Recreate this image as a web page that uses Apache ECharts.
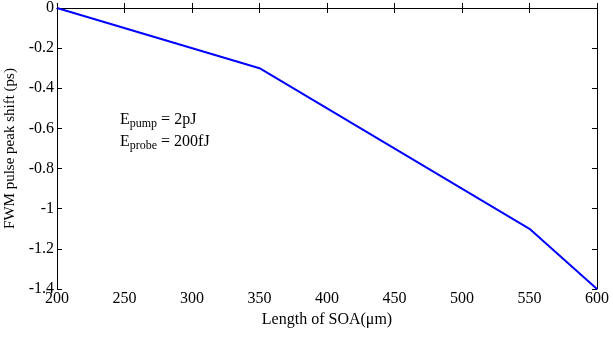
<!DOCTYPE html>
<html>
<head>
<meta charset="utf-8">
<script src="https://cdn.jsdelivr.net/npm/echarts@6/dist/echarts.min.js"></script>
<style>
  html, body {margin: 0; padding: 0; background: #fff;}
  #chart {width: 613px; height: 338px;}
</style>
</head>
<body>
<div id="chart"></div>
<script>
const soaLength = [200, 350, 550, 600]
const peakShift = [0, -0.3, -1.1, -1.4]

const font = 'Liberation Serif, Times New Roman, serif'
const chart = echarts.init(document.getElementById('chart'))

const fmt = v => {
  const r = Math.round(v * 10) / 10
  return r === 0 ? '0' : String(r)
}

const boxAxis = {
  axisLine: {show: true, lineStyle: {color: '#000', width: 1}},
  axisTick: {show: true, inside: true, length: 5, lineStyle: {color: '#000'}},
  splitLine: {show: false},
}

chart.setOption({
  animation: false,
  grid: {left: 57, right: 16, top: 8, bottom: 49, containLabel: false, outerBoundsMode: 'none'},
  xAxis: [{
    type: 'value', min: 200, max: 600, interval: 50,
    ...boxAxis,
    axisLabel: {color: '#000', fontFamily: font, fontSize: 16, margin: 2},
    name: 'Length of SOA(\u03bcm)', nameLocation: 'middle', nameGap: 19,
    nameTextStyle: {color: '#000', fontFamily: font, fontSize: 16},
  }, {
    type: 'value', position: 'top', min: 200, max: 600, interval: 50,
    ...boxAxis, axisLabel: {show: false},
  }],
  yAxis: [{
    type: 'value', min: -1.4, max: 0, interval: 0.2,
    ...boxAxis,
    axisLabel: {color: '#000', fontFamily: font, fontSize: 16, margin: 3, formatter: fmt},
    name: 'FWM pulse peak shift (ps)', nameLocation: 'middle', nameGap: 37,
    nameTextStyle: {color: '#000', fontFamily: font, fontSize: 15},
  }, {
    type: 'value', position: 'right', min: -1.4, max: 0, interval: 0.2,
    ...boxAxis, axisLabel: {show: false},
  }],
  graphic: [{
    type: 'text', left: 120, top: 109,
    style: {
      text: '{e|E}{s|pump}{e| = 2pJ}\n{e|E}{s|probe}{e| = 200fJ}',
      rich: {
        e: {fontFamily: font, fontSize: 16, fill: '#000', lineHeight: 22},
        s: {fontFamily: font, fontSize: 12, fill: '#000', padding: [9, 0, 0, 0], lineHeight: 22},
      },
    },
  }],
  series: [{
    type: 'line',
    data: soaLength.map((x, i) => [x, peakShift[i]]),
    symbol: 'none',
    lineStyle: {color: '#0000ff', width: 2},
  }],
})
</script>
</body>
</html>
